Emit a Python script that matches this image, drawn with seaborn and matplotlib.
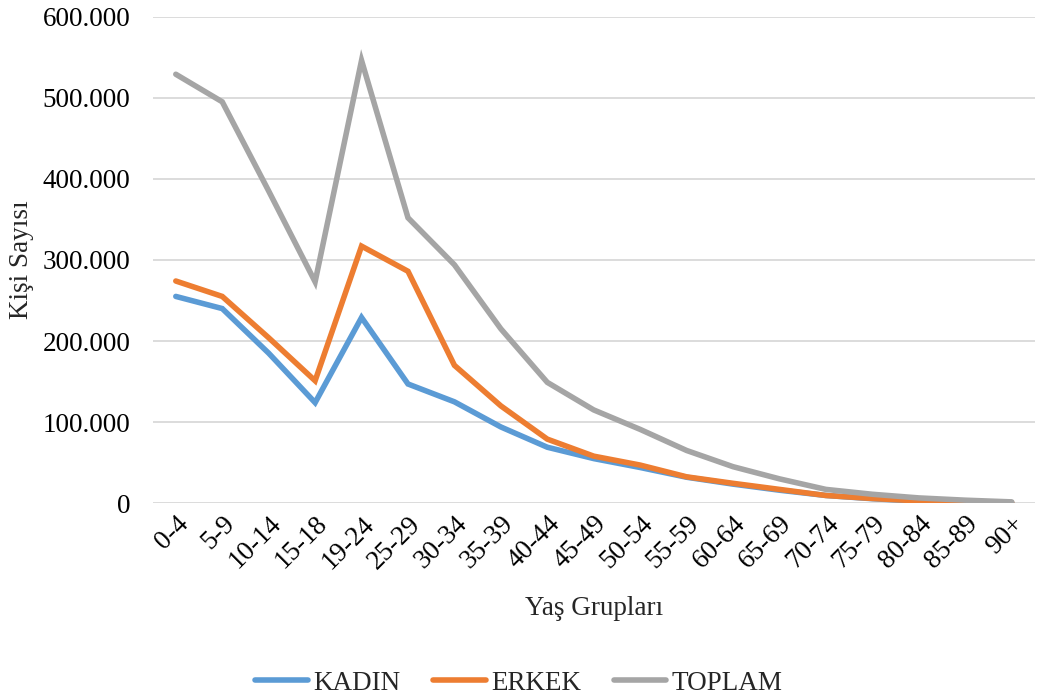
import matplotlib
matplotlib.use("Agg")
import matplotlib.pyplot as plt
import matplotlib.ticker as mticker
import seaborn as sns
import numpy as np
import pandas as pd

age_groups = ["0-4", "5-9", "10-14", "15-18", "19-24", "25-29", "30-34", "35-39",
              "40-44", "45-49", "50-54", "55-59", "60-64", "65-69", "70-74",
              "75-79", "80-84", "85-89", "90+"]
kadin = [255000, 240000, 185000, 124000, 229000, 147000, 125000, 94000, 69000,
         55000, 44000, 32000, 23500, 16000, 9500, 5500, 2500, 1200, 600]
erkek = [274000, 255000, 204000, 151000, 317000, 286000, 170000, 120000, 79000,
         58000, 47000, 32500, 24500, 17000, 9500, 5800, 2800, 1500, 700]
toplam = [529000, 495000, 385000, 273000, 546000, 352000, 294000, 215000, 149000,
          115000, 91000, 65000, 45000, 30000, 17000, 11000, 6500, 3700, 1600]
series_names = ["KADIN", "ERKEK", "TOPLAM"]
colors = ["#5B9BD5", "#ED7D31", "#A5A5A5"]

rows = []
for name, vals in zip(series_names, [kadin, erkek, toplam]):
    for i, v in enumerate(vals):
        rows.append({"pos": i, "grup": age_groups[i], "seri": name, "deger": v})
df = pd.DataFrame(rows)

sns.set_theme(style="white")
plt.rcParams["font.family"] = ["Liberation Serif", "DejaVu Serif"]

fig = plt.figure(figsize=(10.38, 6.95), dpi=100)
ax = fig.add_axes([0.147, 0.276, 0.85, 0.70])

sns.lineplot(data=df, x="pos", y="deger", hue="seri", hue_order=series_names,
             palette=colors, linewidth=4, ax=ax, legend=True, sort=False,
             estimator=None)
for ln in ax.lines:
    ln.set_solid_capstyle("round")
    ln.set_solid_joinstyle("miter")

ax.set_xlim(-0.5, len(age_groups) - 0.5)
ax.set_ylim(0, 600000)
ax.set_yticks(np.arange(0, 600001, 100000))
ax.yaxis.set_major_formatter(mticker.FuncFormatter(
    lambda v, p: "0" if v == 0 else f"{int(v):,}".replace(",", ".")))
ax.set_xticks(range(len(age_groups)))
ax.set_xticklabels(age_groups, rotation=45, ha="right", rotation_mode="anchor")

ax.grid(axis="y", color="#D9D9D9", linewidth=1.3)
ax.set_axisbelow(True)
for s in ax.spines.values():
    s.set_visible(False)
ax.tick_params(axis="both", length=0, labelsize=19.5, colors="#000000")
ax.tick_params(axis="y", pad=16)
ax.tick_params(axis="x", pad=6)

ax.set_xlabel("Yaş Grupları", fontsize=19.5, labelpad=16)
ax.set_ylabel("Kişi Sayısı", fontsize=19.5, labelpad=6)

handles, labels = ax.get_legend_handles_labels()
ax.get_legend().remove()
fig.legend(handles, labels, loc="lower center", bbox_to_anchor=(0.5, -0.036),
           ncol=3, frameon=False, fontsize=19.5, handlelength=1.95,
           columnspacing=1.2, handletextpad=0.2)

fig.savefig("out.png", dpi=100)
